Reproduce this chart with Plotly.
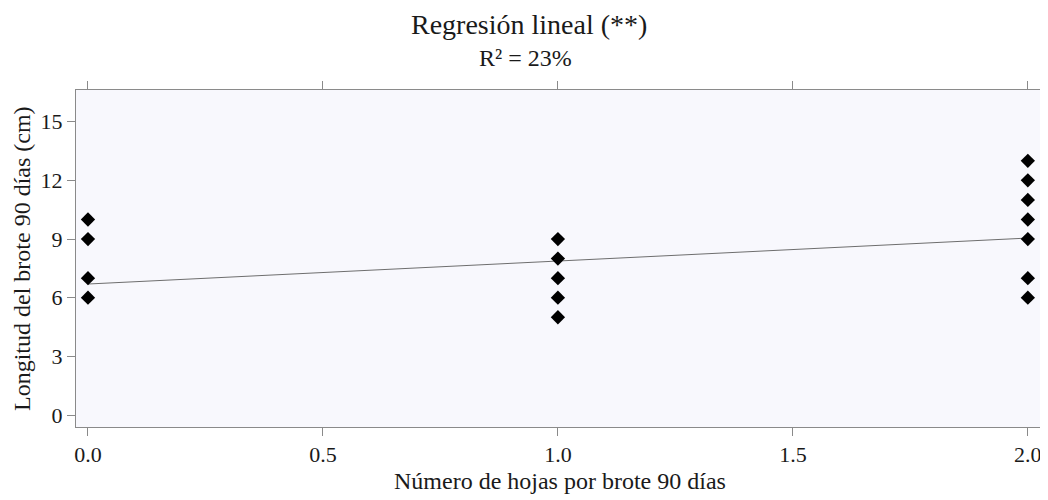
import plotly.graph_objects as go

# Observations
x_vals = [0, 0, 0, 0, 1, 1, 1, 1, 1, 2, 2, 2, 2, 2, 2, 2]
y_vals = [6, 7, 9, 10, 5, 6, 7, 8, 9, 6, 7, 9, 10, 11, 12, 13]

# Fitted regression line endpoints
line_x = [0, 2]
line_y = [6.7, 9.05]

x_ticks = [0.0, 0.5, 1.0, 1.5, 2.0]
x_tick_labels = ["0.0", "0.5", "1.0", "1.5", "2.0"]
y_ticks = [0, 3, 6, 9, 12, 15]

title_text = "Regresión lineal (**)"
subtitle_text = "R² = 23%"
x_title = "Número de hojas por brote 90 días"
y_title = "Longitud del brote 90 días (cm)"

FONT = "Liberation Serif, Times New Roman, serif"
AX = "#8a8a8a"
TXT = "#1a1a1a"

OFF = 8  # page body margin
W, H = 1048 - OFF, 500 - OFF
L, T = 76 - OFF, 90 - OFF
R = W - (1041 - OFF)
B = H - (427 - OFF)
PH = H - T - B
PW = W - L - R


def py(y_page):
    return (H - B - (y_page - OFF)) / PH


def px(x_page):
    return ((x_page - OFF) - L) / PW


fig = go.Figure()
fig.add_trace(go.Scatter(x=line_x, y=line_y, mode="lines",
                         line=dict(color="#6e6e6e", width=1), showlegend=False, hoverinfo="skip"))
fig.add_trace(go.Scatter(x=x_vals, y=y_vals, mode="markers",
                         marker=dict(symbol="diamond", size=11, color="black"),
                         showlegend=False))

fig.update_layout(
    width=W, height=H,
    margin=dict(l=L, r=R, t=T, b=B),
    paper_bgcolor="white",
    plot_bgcolor="#f8f8fd",
    font=dict(family=FONT, color=TXT),
    annotations=[
        dict(text=title_text, x=px(529), y=py(25), xref="paper", yref="paper", showarrow=False,
             xanchor="center", yanchor="middle", font=dict(size=28, family=FONT, color=TXT)),
        dict(text=subtitle_text, x=px(525), y=py(58), xref="paper", yref="paper", showarrow=False,
             xanchor="center", yanchor="middle", font=dict(size=24, family=FONT, color=TXT)),
        dict(text=x_title, x=px(560), y=py(481), xref="paper", yref="paper", showarrow=False,
             xanchor="center", yanchor="middle", font=dict(size=24, family=FONT, color=TXT)),
        dict(text=y_title, x=px(22), y=py(259), xref="paper", yref="paper", showarrow=False,
             textangle=-90, xanchor="center", yanchor="middle",
             font=dict(size=24, family=FONT, color=TXT)),
    ],
)

fig.update_xaxes(
    range=[-0.0255, 2.028], tickvals=x_ticks, ticktext=x_tick_labels,
    showgrid=False, zeroline=False, automargin=False,
    showline=True, linecolor=AX, linewidth=1, mirror="allticks",
    ticks="outside", ticklen=8, tickcolor=AX,
    tickfont=dict(size=22, family=FONT, color=TXT),
)
fig.update_yaxes(
    range=[-0.61, 16.62], tickvals=y_ticks,
    showgrid=False, zeroline=False, automargin=False,
    showline=True, linecolor=AX, linewidth=1, mirror="allticks",
    ticks="outside", ticklen=8, tickcolor=AX,
    tickfont=dict(size=22, family=FONT, color=TXT),
)

fig.write_html("out.html")
